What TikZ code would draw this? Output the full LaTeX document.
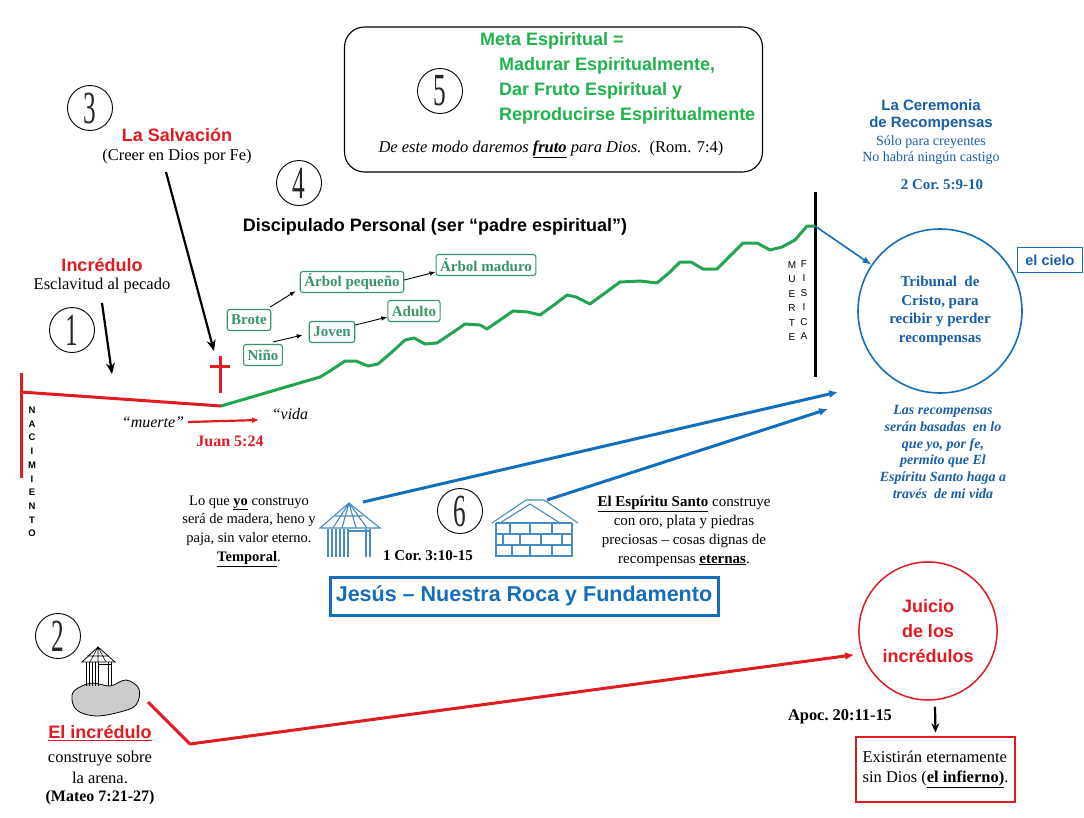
\documentclass[tikz,border=0pt]{standalone}
\usepackage{fontspec}
\setmainfont{Liberation Serif}
\setsansfont{Liberation Sans}
\usepackage{graphicx}
\usetikzlibrary{arrows.meta,shapes.geometric}
\definecolor{rojo}{RGB}{224,27,34}
\definecolor{verde}{RGB}{35,164,81}
\definecolor{verdemeta}{RGB}{30,180,75}
\definecolor{verdecaja}{RGB}{55,150,105}
\definecolor{azul}{RGB}{20,110,185}
\definecolor{azultxt}{RGB}{25,95,165}
\definecolor{hutblue}{RGB}{70,140,195}
\begin{document}
\begin{tikzpicture}[x=1pt,y=-1pt,
  numcirc/.style={circle,draw,line width=0.9pt,minimum size=45pt,inner sep=0pt,text=black!85},
  gbox/.style={draw=verdecaja,line width=1.1pt,rounded corners=2.5pt,text=verdecaja,font=\bfseries\fontsize{15}{17}\selectfont,inner xsep=4pt,inner ysep=2pt,minimum height=21pt},
  smallarrow/.style={-{Latex[length=6pt,width=4.5pt]},line width=0.9pt},
  bigarrow/.style={-{Stealth[length=11pt,width=9pt]},line width=2.2pt},
  vert/.style={font=\sffamily\fontsize{10}{14.4}\selectfont,align=center,inner sep=0pt},
  redsans/.style={text=rojo,font=\sffamily\bfseries\fontsize{18}{22}\selectfont},
  serifsub/.style={font=\fontsize{16.5}{20}\selectfont},
  hut/.style={hutblue,line width=1.1pt},
]
\path[use as bounding box,fill=white] (0,0) rectangle (1084,817);

% ---------- circled numbers
\newcommand{\cnum}[1]{\scalebox{0.55}[1]{\fontsize{46}{46}\selectfont #1}}
\node[numcirc] (n1) at (72,330) {\cnum{1}};
\node[numcirc] (n2) at (58,636) {\cnum{2}};
\node[numcirc] (n3) at (90,108) {\cnum{3}};
\node[numcirc] (n4) at (299,183) {\cnum{4}};
\node[numcirc] (n5) at (440,91) {\cnum{5}};
\node[numcirc] (n6) at (460,511) {\cnum{6}};

% ---------- Meta box
\node[draw,line width=1.1pt,rounded corners=20pt,minimum width=418pt,minimum height=145pt] (metabox) at (553.5,99.5) {};
\node[anchor=west,text=verdemeta,font=\sffamily\bfseries\fontsize{18}{25}\selectfont,inner sep=0pt] (metatitle) at (480,41) {Meta Espiritual =};
\node[anchor=west,align=left,text=verdemeta,font=\sffamily\bfseries\fontsize{18}{25}\selectfont,inner sep=0pt] (metalines) at (499,91) {Madurar Espiritualmente,\\Dar Fruto Espiritual y\\Reproducirse Espiritualmente};
\node[font=\fontsize{16.5}{20}\selectfont] (metafoot) at (551,149) {\textit{De este modo daremos \textbf{\underline{fruto}} para Dios.}\ \ (Rom. 7:4)};

% ---------- Ceremony
\node[align=center,text=azultxt,font=\sffamily\bfseries\fontsize{15}{17}\selectfont] (cer) at (931,115) {La Ceremonia\\de Recompensas};
\node[align=center,text=azultxt,font=\fontsize{14}{16.5}\selectfont] (solo) at (931,150) {Sólo para creyentes\\No habrá ningún castigo};
\node[text=azultxt,font=\bfseries\fontsize{15}{17}\selectfont] (cor2) at (942,185) {2 Cor.\ 5:9-10};

% ---------- Tribunal
\node[circle,draw=azul,line width=1.6pt,minimum size=164pt,align=center,text=azultxt,font=\bfseries\fontsize{15}{18.5}\selectfont] (tribunal) at (940,311) {Tribunal\ \ de\\Cristo, para\\recibir y perder\\recompensas};
\node[draw=azul,line width=1pt,text=azultxt,font=\sffamily\bfseries\fontsize{14.5}{16}\selectfont,minimum width=65pt,minimum height=25pt,inner sep=2pt] (cielo) at (1050,260) {el cielo};
\node[align=center,text=azultxt,font=\bfseries\itshape\fontsize{14}{16.8}\selectfont] (basadas) at (943,452) {Las recompensas\\serán basadas\ \ en lo\\que yo, por fe,\\permito que El\\Espíritu Santo haga a\\través\ \ de mi vida};

% ---------- Physical death line
\coordinate (mtop) at (815,192);
\coordinate (mbot) at (815,377);
\coordinate (cima) at (815,226);
\draw[line width=3pt] (mtop) -- (mbot);
\node[vert] (muerteL) at (792,301) {M\\U\\E\\R\\T\\E};
\node[vert] (fisicaL) at (804,300) {F\\I\\S\\I\\C\\A};
\draw[azul,line width=1.6pt,-{Latex[length=9pt,width=7pt]}] (cima) -- (tribunal.146);

% ---------- Birth line
\coordinate (nactop) at (21,373);
\coordinate (nacbot) at (21,478);
\coordinate (nacmid) at (21,392);
\coordinate (union) at (221,406);
\draw[rojo,line width=3pt] (nactop) -- (nacbot);
\draw[rojo,line width=3pt] (nacmid) -- (union);
\node[vert,font=\sffamily\bfseries\fontsize{9.5}{13.7}\selectfont] (nac) at (32,472) {N\\A\\C\\I\\M\\I\\E\\N\\T\\O};

% ---------- green growth line
\draw[verde,line width=3pt,line join=round] (union) -- (320,377) -- (330,371) -- (345,361) -- (356,361) -- (368,366) -- (378,364) -- (392,352) -- (405,340) -- (414,338) -- (425,344) -- (437,343) -- (452,333) -- (465,324) -- (480,325) -- (487,329) -- (500,320) -- (513,311) -- (528,312) -- (540,315) -- (554,305) -- (567,295) -- (576,297) -- (590,304) -- (605,293) -- (620,282) -- (640,281) -- (657,283) -- (670,272) -- (680,262) -- (691,262) -- (703,269) -- (717,269) -- (730,256) -- (743,243) -- (757,243) -- (770,250) -- (782,247) -- (795,240) -- (807,226) -- (cima);

% ---------- cross
\coordinate (crtop) at (220,356);
\coordinate (crbot) at (220,393);
\coordinate (crl) at (210,366);
\coordinate (crr) at (230,366);
\draw[rojo,line width=3pt] (crtop) -- (crbot);
\draw[rojo,line width=3pt] (crl) -- (crr);

% ---------- Salvación / Incrédulo
\node[redsans] (salv) at (177,135) {La Salvación};
\node[serifsub] (salvsub) at (177,157) {(Creer en Dios por Fe)};
\node[redsans] (incr) at (102,265) {Incrédulo};
\node[serifsub] (incrsub) at (102,286) {Esclavitud al pecado};
\coordinate (salvA) at (166,172);
\coordinate (salvB) at (214,351);
\coordinate (incrA) at (102,303);
\coordinate (incrB) at (112,374);
\draw[bigarrow] (salvA) -- (salvB);
\draw[bigarrow] (incrA) -- (incrB);

% ---------- muerte -> vida
\node[font=\itshape\fontsize{16}{18}\selectfont] (muerte) at (153,422) {“muerte”};
\node[font=\itshape\fontsize{16}{18}\selectfont] (vida) at (290,414) {“vida};
\coordinate (mvA) at (188,422);
\coordinate (mvB) at (259,420);
\draw[rojo,line width=2.2pt,-{Latex[length=7pt,width=6pt]}] (mvA) -- (mvB);
\node[text=rojo,font=\bfseries\fontsize{16}{18}\selectfont] (juan) at (230,441) {Juan 5:24};

% ---------- Discipulado
\node[font=\sffamily\bfseries\fontsize{18}{22}\selectfont] (disc) at (435,227) {Discipulado Personal (ser “padre espiritual”)};

\node[gbox] (brote) at (249,320) {Brote};
\node[gbox] (nino) at (263,355) {Niño};
\node[gbox] (joven) at (332,332) {Joven};
\node[gbox] (adulto) at (414,311) {Adulto};
\node[gbox] (pequeno) at (352,282) {Árbol pequeño};
\node[gbox] (maduro) at (486,265) {Árbol maduro};
\draw[smallarrow] ([xshift=-1pt,yshift=2pt]brote.north east) -- ([xshift=-4pt,yshift=2pt]pequeno.south west);
\draw[smallarrow] ([yshift=2pt]pequeno.east) -- ([yshift=-7pt]maduro.west);
\draw[smallarrow] ([xshift=-10pt,yshift=2pt]nino.north east) -- ([xshift=-6pt,yshift=-3pt]joven.west);
\draw[smallarrow] ([yshift=7pt]joven.east) -- ([yshift=5pt]adulto.south west);

% ---------- huts
% straw hut
\coordinate (hut1top) at (363,502);
\draw[hut] (320,528) -- (349,503) -- (380,528) -- cycle;
\draw[hut] (349,503) -- (333,528) (349,503) -- (342,528) (349,503) -- (356,528) (349,503) -- (367,528) (335,516) -- (363,516);
\foreach \xx in {328,332,336,340,344,348} \draw[hut] (\xx,529) -- (\xx,557);
\draw[hut] (366,529) -- (366,557) (370,529) -- (370,557) (348,531) -- (370,531);
% brick house
\coordinate (hut2top) at (547,500);
\draw[hut] (492,523) -- (526,500) -- (544,500) -- (578,523);
\draw[hut] (500,523) -- (530,504) -- (560,523);
\draw[hut] (496,523) -- (496,557) (572,523) -- (572,557) (496,523) -- (572,523);
\draw[hut] (496,534) -- (572,534) (496,545) -- (572,545) (496,556) -- (572,556);
\foreach \xx in {510,530,552} \draw[hut] (\xx,523) -- (\xx,534);
\foreach \xx in {503,520,541,562} \draw[hut] (\xx,534) -- (\xx,545);
\foreach \xx in {512,530,552} \draw[hut] (\xx,545) -- (\xx,556);
% island with hut
\draw[fill=black!20,line width=0.8pt] plot[smooth cycle,tension=0.6] coordinates {(75,690) (92,683) (110,686) (126,680) (139,689) (136,705) (120,712) (96,716) (78,711) (72,700)};
\draw[line width=0.8pt] (82,662) -- (98,647) -- (115,662) -- cycle;
\draw[line width=0.6pt] (98,647) -- (90,662) (98,647) -- (98,662) (98,647) -- (106,662) (87,656) -- (109,656);
\foreach \xx in {86,89,92,95,98} \draw[line width=0.7pt] (\xx,662) -- (\xx,686);
\draw[line width=0.7pt] (108,662) -- (108,686) (111,662) -- (111,686) (98,664) -- (111,664);

\coordinate (flecha1) at (838,392);
\coordinate (flecha2) at (828,409);
\draw[azul,line width=3pt,-{Latex[length=9pt,width=8pt]}] (hut1top) -- (flecha1);
\draw[azul,line width=3pt,-{Latex[length=9pt,width=8pt]}] (hut2top) -- (flecha2);

\node[align=center,font=\fontsize{14.5}{18.7}\selectfont] (yotxt) at (249,531) {Lo que \textbf{\underline{yo}} construyo\\será de madera, heno y\\paja, sin valor eterno.\\\textbf{\underline{Temporal}}.};
\node[font=\bfseries\fontsize{15}{17}\selectfont] (cor1) at (428,556) {1 Cor.\ 3:10-15};
\node[align=center,font=\fontsize{15}{19}\selectfont] (estxt) at (684,531) {\textbf{\underline{El Espíritu Santo}} construye\\con oro, plata y piedras\\preciosas – cosas dignas de\\recompensas \textbf{\underline{eternas}}.};

\node[draw=azul,line width=3pt,minimum width=388pt,minimum height=38pt,text=azul,font=\sffamily\bfseries\fontsize{21.5}{24}\selectfont] (jesus) at (524,596) {Jesús – Nuestra Roca y Fundamento};

% ---------- unbeliever
\node[text=rojo,font=\sffamily\bfseries\fontsize{18}{22}\selectfont] (elincr) at (100,733) {\underline{El incrédulo}};
\node[align=center,font=\fontsize{16.5}{21}\selectfont] (arena) at (100,767) {construye sobre\\la arena.};
\node[font=\bfseries\fontsize{16}{18}\selectfont] (mateo) at (100,798) {(Mateo 7:21-27)};

\node[ellipse,draw=rojo,line width=1.5pt,minimum width=127pt,minimum height=138pt,align=center,text=rojo,font=\sffamily\bfseries\fontsize{18}{25}\selectfont] (juicio) at (928,631) {Juicio\\de los\\incrédulos};
\coordinate (islaR) at (148,702);
\coordinate (codo) at (190,744);
\draw[rojo,line width=3pt,line join=round,-{Latex[length=9pt,width=8pt]},shorten >=8pt] (islaR) -- (codo) -- (juicio.199);

\node[font=\bfseries\fontsize{16.4}{18}\selectfont] (apoc) at (840,717) {Apoc.\ 20:11-15};
\node[draw=rojo,line width=1.3pt,minimum width=159pt,minimum height=65pt,align=left,font=\fontsize{16.5}{20.5}\selectfont] (infierno) at (935.5,769.5) {Existirán eternamente\\sin Dios (\textbf{\underline{el infierno)}}.};
\draw[line width=2.2pt,-{Stealth[length=9pt,width=8pt]}] ([xshift=7pt,yshift=-6pt]juicio.south) -- ([yshift=4pt]infierno.north);
\end{tikzpicture}
\end{document}
